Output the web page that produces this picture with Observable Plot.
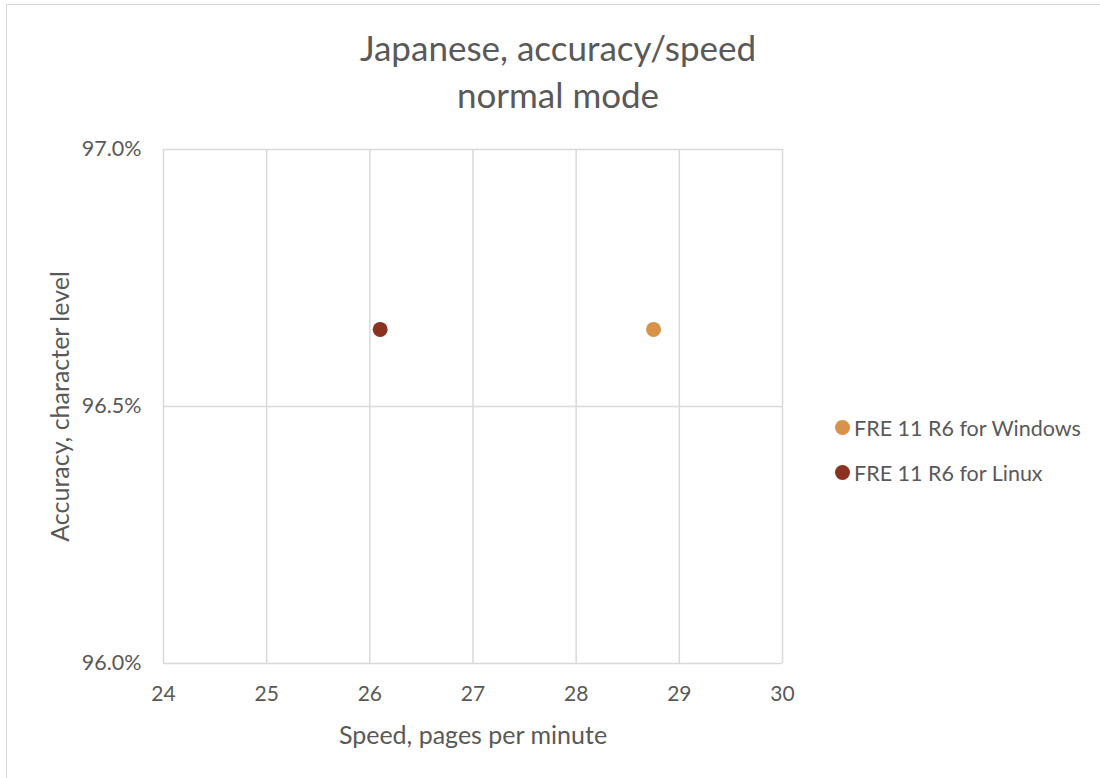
<!DOCTYPE html>
<html>
<head>
<meta charset="utf-8">
<script src="https://cdn.jsdelivr.net/npm/d3@7"></script>
<script src="https://cdn.jsdelivr.net/npm/@observablehq/plot@0.6"></script>
<style>
  html, body { margin: 0; padding: 0; background: #fff; }
  #wrap { position: relative; width: 1100px; height: 778px; overflow: hidden; font-family: Lato, "Open Sans", sans-serif; color: #595959; }
  #border { position: absolute; left: 6px; top: 4px; width: 1200px; height: 900px; border: 1.5px solid #d9d9d9; box-sizing: border-box; }
  #title { position: absolute; left: 258px; width: 600px; top: 24px; text-align: center; font-size: 35px; line-height: 47px; color: #595959; }
  #legend { position: absolute; left: 835px; top: 405px; font-size: 21.5px; color: #595959; }
  .li { display: flex; align-items: center; height: 45px; }
  .sw { width: 15px; height: 15px; border-radius: 50%; margin-right: 4px; }
  #chart { position: absolute; left: 0; top: 0; }
</style>
</head>
<body>
<div id="wrap">
  <div id="border"></div>
  <div id="chart"></div>
  <div id="title">Japanese, accuracy/speed<br>normal mode</div>
  <div id="legend"></div>
</div>
<script>
const seriesNames = ["FRE 11 R6 for Windows", "FRE 11 R6 for Linux"];
const seriesColors = ["#D9924A", "#8B3222"];
const speedValues = [28.75, 26.1];
const accuracyValues = [0.9665, 0.9665];
const xTicks = [24, 25, 26, 27, 28, 29, 30];
const yTicks = [0.96, 0.965, 0.97];

const data = seriesNames.map((name, i) => ({name, speed: speedValues[i], acc: accuracyValues[i]}));

const chart = Plot.plot({
  width: 1100,
  height: 778,
  marginLeft: 163,
  marginRight: 318,
  marginTop: 149,
  marginBottom: 115,
  style: {fontFamily: "Lato, 'Open Sans', sans-serif", fontSize: "21px", color: "#595959", background: "transparent"},
  x: {domain: [24, 30], ticks: xTicks},
  y: {domain: [0.96, 0.97], ticks: yTicks},
  color: {domain: seriesNames, range: seriesColors},
  marks: [
    Plot.gridX(xTicks, {stroke: "#d9d9d9", strokeOpacity: 1, strokeWidth: 1.5}),
    Plot.gridY(yTicks, {stroke: "#d9d9d9", strokeOpacity: 1, strokeWidth: 1.5}),
    Plot.axisX(xTicks, {tickSize: 0, tickPadding: 23, label: null, fill: "#595959", fontSize: 21}),
    Plot.axisY(yTicks, {tickSize: 0, tickPadding: 22, label: null, fill: "#595959", fontSize: 21.5, tickFormat: d3.format(".1%")}),
    Plot.text(["Speed, pages per minute"], {frameAnchor: "bottom", textAnchor: "middle", dy: 80, fill: "#595959", fontSize: 25}),
    Plot.text(["Accuracy, character level"], {frameAnchor: "left", textAnchor: "middle", dx: -103, rotate: -90, fill: "#595959", fontSize: 25}),
    Plot.dot(data, {x: "speed", y: "acc", fill: "name", r: 7.5, stroke: null})
  ]
});
document.getElementById("chart").appendChild(chart);

const legend = document.getElementById("legend");
seriesNames.forEach((n, i) => {
  const row = document.createElement("div");
  row.className = "li";
  row.innerHTML = `<span class="sw" style="background:${seriesColors[i]}"></span><span>${n}</span>`;
  legend.appendChild(row);
});
</script>
</body>
</html>
